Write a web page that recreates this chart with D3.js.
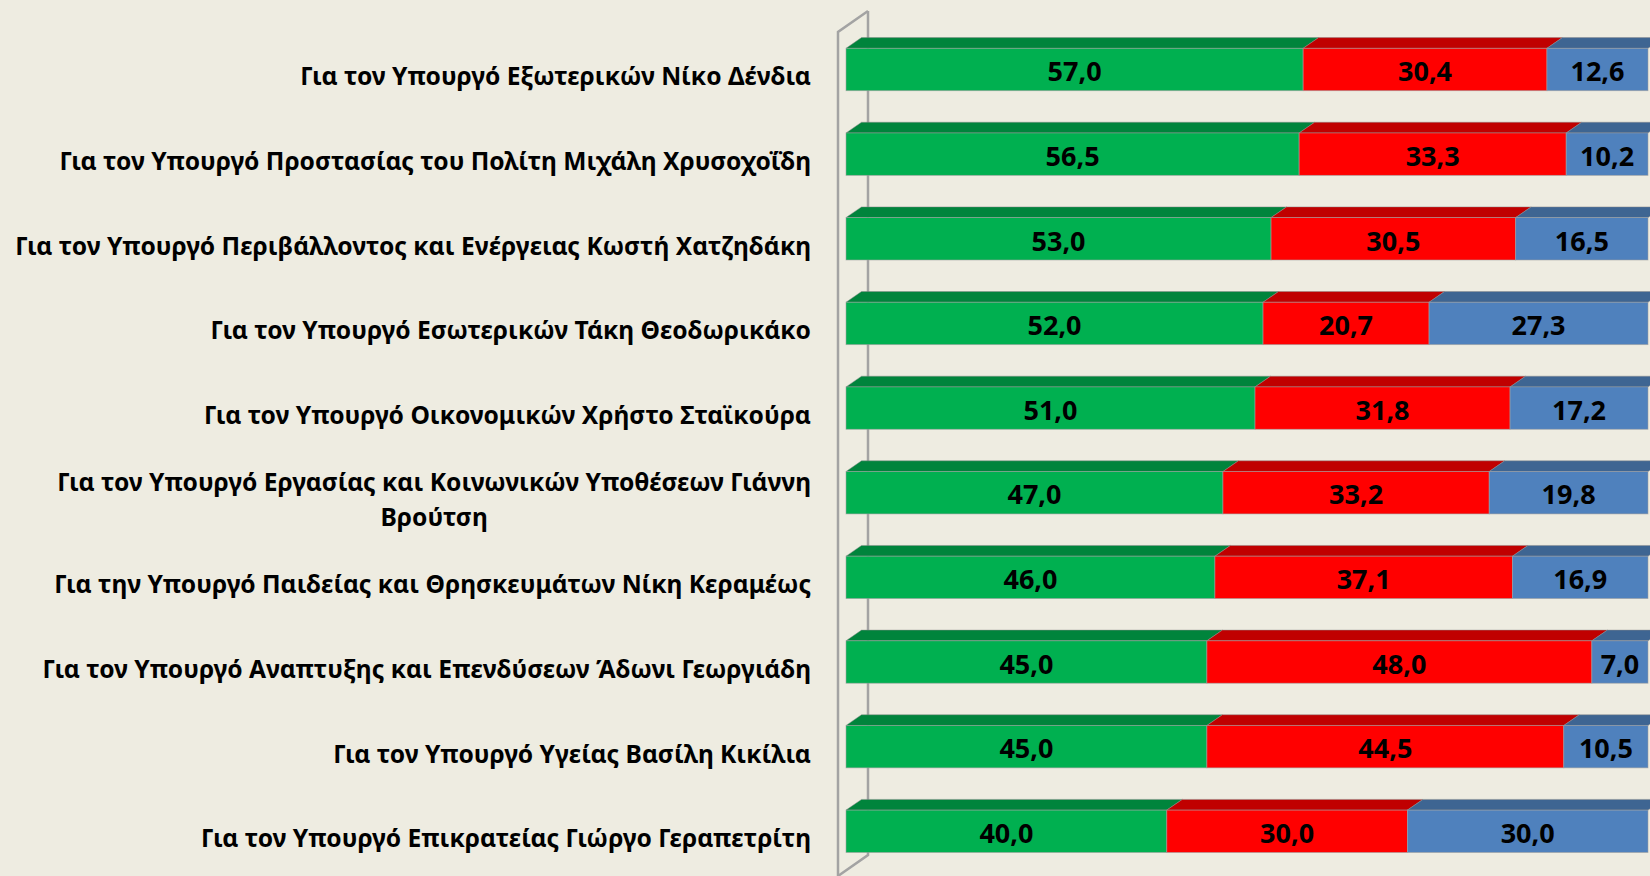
<!DOCTYPE html>
<html>
<head>
<meta charset="utf-8">
<script src="https://cdn.jsdelivr.net/npm/d3@7"></script>
<style>
  html, body { margin: 0; padding: 0; background: #eeece1; overflow: hidden; }
  svg { display: block; }
</style>
</head>
<body>
<div id="chart-container"></div>
<script>
// data
const categories = [
  "Για τον Υπουργό Εξωτερικών Νίκο Δένδια",
  "Για τον Υπουργό Προστασίας του Πολίτη Μιχάλη Χρυσοχοΐδη",
  "Για τον Υπουργό Περιβάλλοντος και Ενέργειας Κωστή Χατζηδάκη",
  "Για τον Υπουργό Εσωτερικών Τάκη Θεοδωρικάκο",
  "Για τον Υπουργό Οικονομικών Χρήστο Σταϊκούρα",
  "Για τον Υπουργό Εργασίας και Κοινωνικών Υποθέσεων Γιάννη Βρούτση",
  "Για την Υπουργό Παιδείας και Θρησκευμάτων Νίκη Κεραμέως",
  "Για τον Υπουργό Αναπτυξης και Επενδύσεων Άδωνι Γεωργιάδη",
  "Για τον Υπουργό Υγείας Βασίλη Κικίλια",
  "Για τον Υπουργό Επικρατείας Γιώργο Γεραπετρίτη"
];
const greenValues = [57.0, 56.5, 53.0, 52.0, 51.0, 47.0, 46.0, 45.0, 45.0, 40.0];
const redValues   = [30.4, 33.3, 30.5, 20.7, 31.8, 33.2, 37.1, 48.0, 44.5, 30.0];
const blueValues  = [12.6, 10.2, 16.5, 27.3, 17.2, 19.8, 16.9, 7.0, 10.5, 30.0];

const seriesKeys = ["green", "red", "blue"];
const frontColors = { green: "#00b050", red: "#ff0000", blue: "#4f81bd" };
const topColors   = { green: "#00843c", red: "#c00000", blue: "#3e6592" };

const width = 1650, height = 876;
const fmt = v => d3.format(".1f")(v).replace(".", ",");

const rows = categories.map((c, i) => ({
  cat: c, green: greenValues[i], red: redValues[i], blue: blueValues[i]
}));
const stacked = d3.stack().keys(seriesKeys)(rows);

const svg = d3.select("#chart-container").append("svg")
  .attr("width", width).attr("height", height);

svg.append("rect").attr("width", width).attr("height", height).attr("fill", "#eeece1");

const x = d3.scaleLinear().domain([0, 100]).range([846, 1648]);
const y = d3.scalePoint().domain(categories).range([69.5, 831.3]);
const barH = 42.4;
const dx = 15.5, dy = 10.7;

// wall of the 3D plot
const wall = svg.append("g").attr("fill", "none").attr("stroke", "#a3a3a3").attr("stroke-width", 2.5);
wall.append("path").attr("d", "M868,11 L868,855 L838,876");
wall.append("path").attr("d", "M868,11 L838,32 L838,880");

// bars
const gBars = svg.append("g");
stacked.forEach(s => {
  const key = s.key;
  s.forEach((d, i) => {
    const cat = categories[i];
    const x0 = x(d[0]), x1 = x(d[1]);
    const yt = y(cat) - barH / 2;
    gBars.append("path")
      .attr("d", `M${x0},${yt} L${x0 + dx},${yt - dy} L${x1 + dx},${yt - dy} L${x1},${yt} Z`)
      .attr("fill", topColors[key])
      .attr("stroke", "rgba(140,140,140,0.6)").attr("stroke-width", 0.8);
    gBars.append("rect")
      .attr("x", x0).attr("y", yt)
      .attr("width", x1 - x0).attr("height", barH)
      .attr("fill", frontColors[key])
      .attr("stroke", "rgba(160,160,160,0.7)").attr("stroke-width", 0.8);
  });
});

// value labels
stacked.forEach(s => {
  s.forEach((d, i) => {
    svg.append("text")
      .attr("x", (x(d[0]) + x(d[1])) / 2)
      .attr("y", y(categories[i]) + 2)
      .attr("dy", "0.36em")
      .attr("text-anchor", "middle")
      .style("font-family", "'Noto Sans', 'DejaVu Sans', sans-serif")
      .style("font-weight", "bold")
      .style("font-size", "27px")
      .attr("fill", "#000")
      .text(fmt(d[1] - d[0]));
  });
});

// category labels: fit font size to the longest single-line label
const labelFont = "'Noto Sans', 'DejaVu Sans', sans-serif";
const probe = svg.append("text").style("font-family", labelFont).style("font-weight", "bold")
  .style("font-size", "100px").text(categories[2]);
const fs = 100 * 796 / probe.node().getComputedTextLength();
probe.remove();
const maxW = 810;
const labelRight = 811;
const lineH = fs * 1.45;

function wrap(str) {
  const t = svg.append("text").style("font-family", labelFont).style("font-weight", "bold")
    .style("font-size", fs + "px");
  const words = str.split(" ");
  const lines = [];
  let cur = [];
  words.forEach(w => {
    cur.push(w);
    t.text(cur.join(" "));
    if (t.node().getComputedTextLength() > maxW && cur.length > 1) {
      cur.pop();
      lines.push(cur.join(" "));
      cur = [w];
    }
  });
  lines.push(cur.join(" "));
  const widths = lines.map(l => { t.text(l); return t.node().getComputedTextLength(); });
  t.remove();
  return { lines, widths };
}

categories.forEach(c => {
  const { lines, widths } = wrap(c);
  const blockW = d3.max(widths);
  const cx = labelRight - blockW / 2;
  const cy = y(c) + 8;
  const t = svg.append("text")
    .attr("text-anchor", "middle")
    .style("font-family", labelFont)
    .style("font-weight", "bold")
    .style("font-size", fs + "px")
    .attr("fill", "#000");
  lines.forEach((l, k) => {
    t.append("tspan")
      .attr("x", cx)
      .attr("y", cy + (k - (lines.length - 1) / 2) * lineH)
      .attr("dy", "0.32em")
      .text(l);
  });
});
</script>
</body>
</html>
